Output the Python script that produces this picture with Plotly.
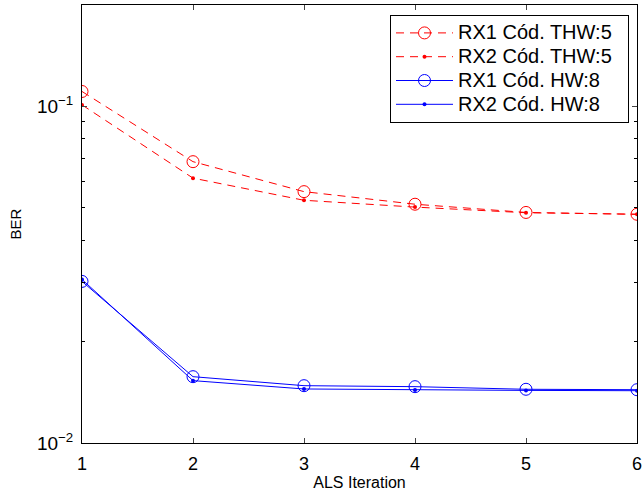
import plotly.graph_objects as go

iterations = [1, 2, 3, 4, 5, 6]
rx1_thw5 = [0.1107, 0.0685, 0.0558, 0.0512, 0.0484, 0.0478]
rx2_thw5 = [0.1010, 0.0612, 0.0526, 0.0502, 0.0483, 0.0478]
rx1_hw8 = [0.0302, 0.01574, 0.01480, 0.01470, 0.01444, 0.01440]
rx2_hw8 = [0.0306, 0.01532, 0.01447, 0.01437, 0.01433, 0.01430]

names = ["RX1 Cód. THW:5", "RX2 Cód. THW:5", "RX1 Cód. HW:8", "RX2 Cód. HW:8"]
y_tickvals = [0.01, 0.1]
y_ticktext = ["10<sup>−2</sup>", "10<sup>−1</sup>"]
y_minor = [0.02, 0.03, 0.04, 0.05, 0.06, 0.07, 0.08, 0.09, 0.2]

RED = "#ff0000"
BLUE = "#0000ff"


def legend_label(text):
    return '<span style="font-size:20px">' + text + '&nbsp;&nbsp;</span>'


fig = go.Figure()
fig.add_trace(go.Scatter(x=iterations, y=rx1_thw5, name=legend_label(names[0]), mode="lines+markers",
                         line=dict(color=RED, width=1, dash="8px,6px"),
                         marker=dict(symbol="circle-open", size=12, color=RED, line=dict(width=1))))
fig.add_trace(go.Scatter(x=iterations, y=rx2_thw5, name=legend_label(names[1]), mode="lines+markers",
                         line=dict(color=RED, width=1, dash="8px,6px"),
                         marker=dict(symbol="circle", size=4, color=RED)))
fig.add_trace(go.Scatter(x=iterations, y=rx1_hw8, name=legend_label(names[2]), mode="lines+markers",
                         line=dict(color=BLUE, width=1),
                         marker=dict(symbol="circle-open", size=12, color=BLUE, line=dict(width=1))))
fig.add_trace(go.Scatter(x=iterations, y=rx2_hw8, name=legend_label(names[3]), mode="lines+markers",
                         line=dict(color=BLUE, width=1),
                         marker=dict(symbol="circle", size=4, color=BLUE)))

font_family = "Liberation Sans, Arial, Helvetica, sans-serif"

fig.update_layout(
    width=643, height=496,
    margin=dict(l=82, r=6, t=5, b=53, autoexpand=False),
    paper_bgcolor="white", plot_bgcolor="white",
    font=dict(family=font_family, color="black"),
    showlegend=True,
    legend=dict(x=(390 - 82) / 555, y=(443 - 15) / 438, xanchor="left", yanchor="top",
                bgcolor="white", bordercolor="black", borderwidth=1,
                font=dict(size=16, family=font_family, color="black"),
                itemwidth=57, tracegroupgap=0),
    xaxis=dict(range=[1, 6], tickvals=iterations, ticks="inside", ticklen=5,
               showline=True, linecolor="black", linewidth=1, mirror="ticks",
               showgrid=False, zeroline=False, automargin=False,
               tickfont=dict(size=18), ticklabelstandoff=4,
               title=dict(text="ALS Iteration", font=dict(size=16), standoff=4)),
    yaxis=dict(type="log", range=[-2, -0.69897], tickvals=y_tickvals, ticktext=y_ticktext,
               ticks="inside", ticklen=5,
               minor=dict(tickvals=y_minor, ticks="inside", ticklen=3, tickcolor="black", showgrid=False),
               showline=True, linecolor="black", linewidth=1, mirror="ticks",
               showgrid=False, zeroline=False, automargin=False,
               tickfont=dict(size=19), ticklabelstandoff=4,
               title=dict(text="BER", font=dict(size=15), standoff=11)),
)

fig.write_html("out.html", config={"displayModeBar": False},
               post_script="document.body.style.margin='0px';")
